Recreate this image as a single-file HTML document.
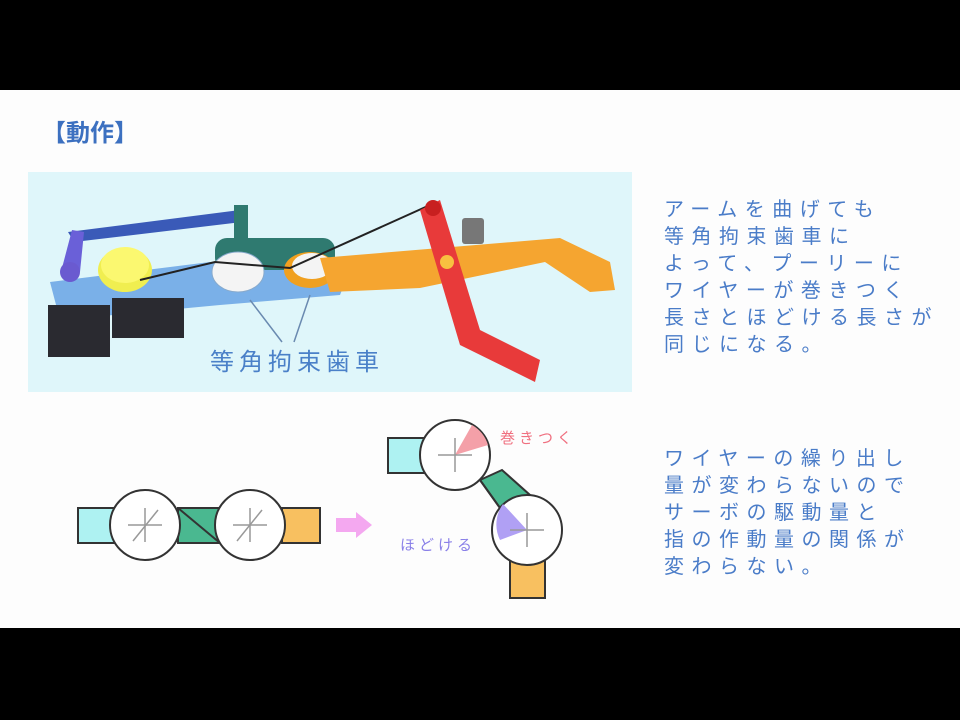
<!DOCTYPE html>
<html><head><meta charset="utf-8"><style>
body{margin:0;width:960px;height:720px;background:#000;position:relative;overflow:hidden;font-family:"Liberation Sans","Noto Sans CJK JP",sans-serif}
.page{position:absolute;left:0;top:90px;width:960px;height:538px;background:#fdfdfd}
.t{position:absolute;color:#4a7cc8;font-size:20px;letter-spacing:7.5px;white-space:nowrap;line-height:27px}
</style></head><body>
<div class="page"></div>
<div class="t" style="left:42px;top:120px;font-size:24px;letter-spacing:0;font-weight:bold;color:#3c70c0">【動作】</div>
<div class="t" style="left:664px;top:197px">アームを曲げても<br>等角拘束歯車に<br>よって、プーリーに<br>ワイヤーが巻きつく<br>長さとほどける長さが<br>同じになる。</div>
<div class="t" style="left:664px;top:446px">ワイヤーの繰り出し<br>量が変わらないので<br>サーボの駆動量と<br>指の作動量の関係が<br>変わらない。</div>
<svg width="960" height="720" style="position:absolute;left:0;top:0">
<rect x="28" y="172" width="604" height="220" fill="#dff6fa"/>
<polygon points="50,282 210,262 240,270 350,270 340,295 220,305 60,320" fill="#7ab0e8"/>
<rect x="48" y="305" width="62" height="52" fill="#2a2a30"/>
<rect x="112" y="298" width="72" height="40" fill="#2a2a30"/>
<ellipse cx="125" cy="270" rx="27" ry="22" fill="#f0ee50"/>
<ellipse cx="125" cy="265" rx="24" ry="18" fill="#fbf870"/>
<polygon points="68,232 240,210 242,222 74,242" fill="#3a5ab8"/>
<polygon points="62,268 72,230 84,232 80,272" fill="#6a60d8"/>
<circle cx="70" cy="272" r="10" fill="#6a5ad0"/>
<rect x="234" y="205" width="14" height="45" fill="#2f7a70"/>
<rect x="215" y="238" width="120" height="32" rx="12" fill="#2f7a70"/>
<ellipse cx="238" cy="272" rx="26" ry="20" fill="#f4f4f4" stroke="#88aacc"/>
<ellipse cx="310" cy="270" rx="26" ry="18" fill="#f0a020"/>
<ellipse cx="312" cy="266" rx="20" ry="13" fill="#f4f4f4"/>
<polygon points="320,258 560,238 610,262 615,290 590,292 545,262 420,288 330,292" fill="#f5a530"/>
<polyline points="140,280 215,262 290,268 430,205" fill="none" stroke="#222" stroke-width="2"/>
<rect x="462" y="218" width="22" height="26" fill="#777" rx="3"/>
<polygon points="420,210 440,200 480,330 540,360 535,382 460,345" fill="#e83a3a"/>
<circle cx="433" cy="208" r="8" fill="#c82020"/>
<circle cx="447" cy="262" r="7" fill="#f8c040"/>
<line x1="250" y1="300" x2="282" y2="342" stroke="#6a8ab0" stroke-width="1.5"/>
<line x1="310" y1="295" x2="294" y2="342" stroke="#6a8ab0" stroke-width="1.5"/>
<text x="210" y="370" font-size="24" fill="#4a80c8" letter-spacing="5" font-family="Liberation Sans,Noto Sans CJK JP,sans-serif">等角拘束歯車</text>
<g stroke="#333" stroke-width="2">
<rect x="78" y="508" width="40" height="35" fill="#aef2f2"/>
<rect x="178" y="508" width="42" height="35" fill="#4ab890"/>
<rect x="282" y="508" width="38" height="35" fill="#f8c060"/>
<line x1="178" y1="508" x2="220" y2="543"/>
<circle cx="145" cy="525" r="35" fill="#fff"/>
<circle cx="250" cy="525" r="35" fill="#fff"/>
</g>
<g stroke="#999" stroke-width="1.5"><line x1="128" y1="525" x2="162" y2="525"/><line x1="145" y1="508" x2="145" y2="542"/><line x1="233" y1="525" x2="267" y2="525"/><line x1="250" y1="508" x2="250" y2="542"/><line x1="237" y1="541" x2="262" y2="510"/><line x1="133" y1="541" x2="158" y2="510"/></g>
<polygon points="336,518 356,518 356,512 372,525 356,538 356,532 336,532" fill="#f4a8f0"/>
<g stroke="#333" stroke-width="2">
<rect x="388" y="438" width="38" height="35" fill="#aef2f2"/>
<rect x="510" y="560" width="35" height="38" fill="#f8c060"/>
<polygon points="480,480 502,470 530,495 505,515" fill="#4ab890"/>
<line x1="480" y1="480" x2="505" y2="515"/>
<circle cx="455" cy="455" r="35" fill="#fff"/>
<circle cx="527" cy="530" r="35" fill="#fff"/>
</g>
<path d="M455,455 L472,425 A35,35 0 0 1 488,445 Z" fill="#f4a0a8"/>
<path d="M527,530 L503,504 A35,35 0 0 0 500,540 Z" fill="#b0a0f4"/>
<g stroke="#999" stroke-width="1.5"><line x1="438" y1="455" x2="472" y2="455"/><line x1="455" y1="438" x2="455" y2="472"/><line x1="510" y1="530" x2="544" y2="530"/><line x1="527" y1="513" x2="527" y2="547"/></g>
<text x="500" y="443" font-size="15" fill="#f07080" letter-spacing="4" font-family="Liberation Sans,Noto Sans CJK JP,sans-serif">巻きつく</text>
<text x="400" y="550" font-size="15" fill="#8a80e8" letter-spacing="4" font-family="Liberation Sans,Noto Sans CJK JP,sans-serif">ほどける</text>
</svg>
</body></html>
